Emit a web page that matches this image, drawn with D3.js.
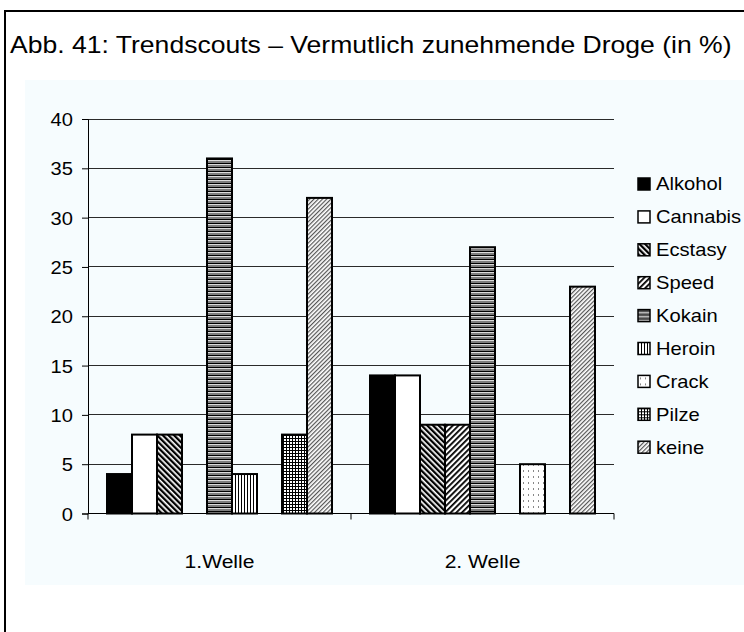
<!DOCTYPE html>
<html>
<head>
<meta charset="utf-8">
<script src="https://cdn.jsdelivr.net/npm/d3@7"></script>
<style>
  html, body { margin: 0; padding: 0; background: #fff; }
  svg { display: block; font-family: "Liberation Sans", Arial, sans-serif; }
</style>
</head>
<body>
<script>
// Categories (survey waves) and drug series
const waves = ["1.Welle", "2. Welle"];
const drugs = ["Alkohol", "Cannabis", "Ecstasy", "Speed", "Kokain", "Heroin", "Crack", "Pilze", "keine"];

// Share of trend scouts naming each drug (in %), per wave
const welle1 = [4, 8, 8, 0, 36, 4, 0, 8, 32];
const welle2 = [14, 14, 9, 9, 27, 0, 5, 0, 23];

const yTicks = [0, 5, 10, 15, 20, 25, 30, 35, 40];
const title = "Abb. 41: Trendscouts \u2013 Vermutlich zunehmende Droge (in %)";

const W = 744, H = 632;
const svg = d3.select("body").append("svg").attr("width", W).attr("height", H);

// ---- hatch fills, one per drug ----
const defs = svg.append("defs");
function pat(id, w, h, draw, transform) {
  const p = defs.append("pattern").attr("id", id)
    .attr("patternUnits", "userSpaceOnUse").attr("width", w).attr("height", h);
  if (transform) p.attr("patternTransform", transform);
  draw(p);
}
pat("p-alkohol", 4, 4, p => p.append("rect").attr("width", 4).attr("height", 4).attr("fill", "#000"));
pat("p-cannabis", 4, 4, p => p.append("rect").attr("width", 4).attr("height", 4).attr("fill", "#fff"));
pat("p-ecstasy", 4, 4, p => {
  p.append("rect").attr("width", 4).attr("height", 4).attr("fill", "#fff");
  p.append("rect").attr("width", 2.3).attr("height", 4).attr("fill", "#000");
}, "rotate(-45)");
pat("p-speed", 4, 4, p => {
  p.append("rect").attr("width", 4).attr("height", 4).attr("fill", "#fff");
  p.append("rect").attr("width", 1.8).attr("height", 4).attr("fill", "#000");
}, "rotate(45)");
pat("p-kokain", 4, 4, p => {
  p.append("rect").attr("width", 4).attr("height", 4).attr("fill", "#7e7e7e");
  p.append("rect").attr("y", 0).attr("width", 4).attr("height", 1).attr("fill", "#ddd");
  p.append("rect").attr("y", 3).attr("width", 4).attr("height", 1).attr("fill", "#000");
});
pat("p-heroin", 3, 3, p => {
  p.append("rect").attr("width", 3).attr("height", 3).attr("fill", "#fff");
  p.append("rect").attr("width", 1).attr("height", 3).attr("fill", "#000");
});
pat("p-crack", 5, 6, p => {
  p.append("rect").attr("width", 5).attr("height", 6).attr("fill", "#fff");
  p.append("rect").attr("x", 2).attr("y", 2).attr("width", 1).attr("height", 2).attr("fill", "#888");
});
pat("p-pilze", 3, 3, p => {
  p.append("rect").attr("width", 3).attr("height", 3).attr("fill", "#fff");
  p.append("rect").attr("width", 3).attr("height", 1).attr("fill", "#000");
  p.append("rect").attr("width", 1).attr("height", 3).attr("fill", "#000");
});
pat("p-keine", 3, 3, p => {
  p.append("rect").attr("width", 3).attr("height", 3).attr("fill", "#fff");
  p.append("rect").attr("width", 1.2).attr("height", 3).attr("fill", "#555");
}, "rotate(45)");
const fills = drugs.map(d => `url(#p-${d.toLowerCase()})`);
const fill = d3.scaleOrdinal().domain(drugs).range(fills);

// ---- frame and panel ----
svg.append("rect").attr("x", 5).attr("y", 11).attr("width", W + 20).attr("height", H + 20)
  .attr("fill", "#fff").attr("stroke", "#000").attr("stroke-width", 2);
svg.append("rect").attr("x", 25).attr("y", 80).attr("width", W).attr("height", 505)
  .attr("fill", "#f6fcfe");

// Text in this figure is set slightly wide; stretch horizontally around its anchor
function wide(sel, sx) {
  sel.each(function () {
    const t = d3.select(this);
    const x = +t.attr("x") || 0, yy = +t.attr("y") || 0;
    t.attr("transform", `translate(${x},${yy}) scale(${sx},1)`).attr("x", 0).attr("y", 0);
  });
}

svg.append("text").attr("x", 10).attr("y", 53)
  .attr("font-size", 23).attr("fill", "#000").text(title)
  .call(wide, 1.155);

// ---- scales ----
const plot = { left: 88, right: 614, top: 119, bottom: 513.5 };
const x0 = d3.scaleBand().domain(waves).range([plot.left, plot.right]);
const x1 = d3.scaleBand().domain(drugs).range([0, x0.bandwidth()]).paddingOuter(0.76);
const y = d3.scaleLinear().domain([0, 40]).range([plot.bottom, plot.top]);

// gridlines
svg.append("g").selectAll("line").data(yTicks.filter(t => t > 0)).join("line")
  .attr("x1", plot.left).attr("x2", plot.right)
  .attr("y1", d => y(d)).attr("y2", d => y(d))
  .attr("stroke", "#2a2a2a").attr("stroke-width", 1).attr("shape-rendering", "crispEdges");

// bars
const rows = waves.map((w, i) => ({ wave: w, values: [welle1, welle2][i] }));
const gBars = svg.append("g");
rows.forEach(r => {
  gBars.append("g").attr("transform", `translate(${x0(r.wave)},0)`)
    .selectAll("rect").data(drugs.map((d, j) => ({ drug: d, v: r.values[j] })).filter(d => d.v > 0))
    .join("rect")
    .attr("x", d => x1(d.drug)).attr("width", x1.bandwidth())
    .attr("y", d => y(d.v)).attr("height", d => y(0) - y(d.v))
    .attr("fill", d => fill(d.drug))
    .attr("stroke", "#000").attr("stroke-width", 2);
});

// y axis
const yAxis = svg.append("g").attr("transform", `translate(${plot.left},0)`)
  .call(d3.axisLeft(y).tickValues(yTicks).tickSize(6).tickPadding(9));
yAxis.select(".domain").attr("stroke", "#000");
yAxis.selectAll(".tick line").attr("stroke", "#000");
yAxis.selectAll("text").attr("font-size", 19).attr("font-family", "Liberation Sans, Arial, sans-serif")
  .attr("fill", "#000").attr("dy", "0.35em").call(wide, 1.06);

// x axis
const xAxis = svg.append("g").attr("transform", `translate(0,${plot.bottom})`)
  .call(d3.axisBottom(x0).tickSize(0).tickPadding(41));
xAxis.select(".domain").attr("stroke", "#000").attr("d", `M${plot.left},0H${plot.right}`);
xAxis.selectAll("text").attr("font-size", 19).attr("font-family", "Liberation Sans, Arial, sans-serif")
  .attr("fill", "#000").call(wide, 1.11);
// category boundary ticks
svg.append("g").selectAll("line").data([plot.left, x0(waves[1]), plot.right]).join("line")
  .attr("x1", d => d).attr("x2", d => d)
  .attr("y1", plot.bottom).attr("y2", plot.bottom + 6)
  .attr("stroke", "#000");

// legend
const legend = svg.append("g").attr("transform", "translate(638,184)");
const li = legend.selectAll("g").data(drugs).join("g")
  .attr("transform", (d, i) => `translate(0,${i * 32.9})`);
li.append("rect").attr("x", 0).attr("y", -6).attr("width", 12).attr("height", 12)
  .attr("fill", d => fill(d)).attr("stroke", "#000").attr("stroke-width", 1.5);
li.append("text").attr("x", 18).attr("y", 0).attr("dy", "0.35em")
  .attr("font-size", 18).attr("fill", "#000").text(d => d)
  .call(wide, 1.12);
</script>
</body>
</html>
